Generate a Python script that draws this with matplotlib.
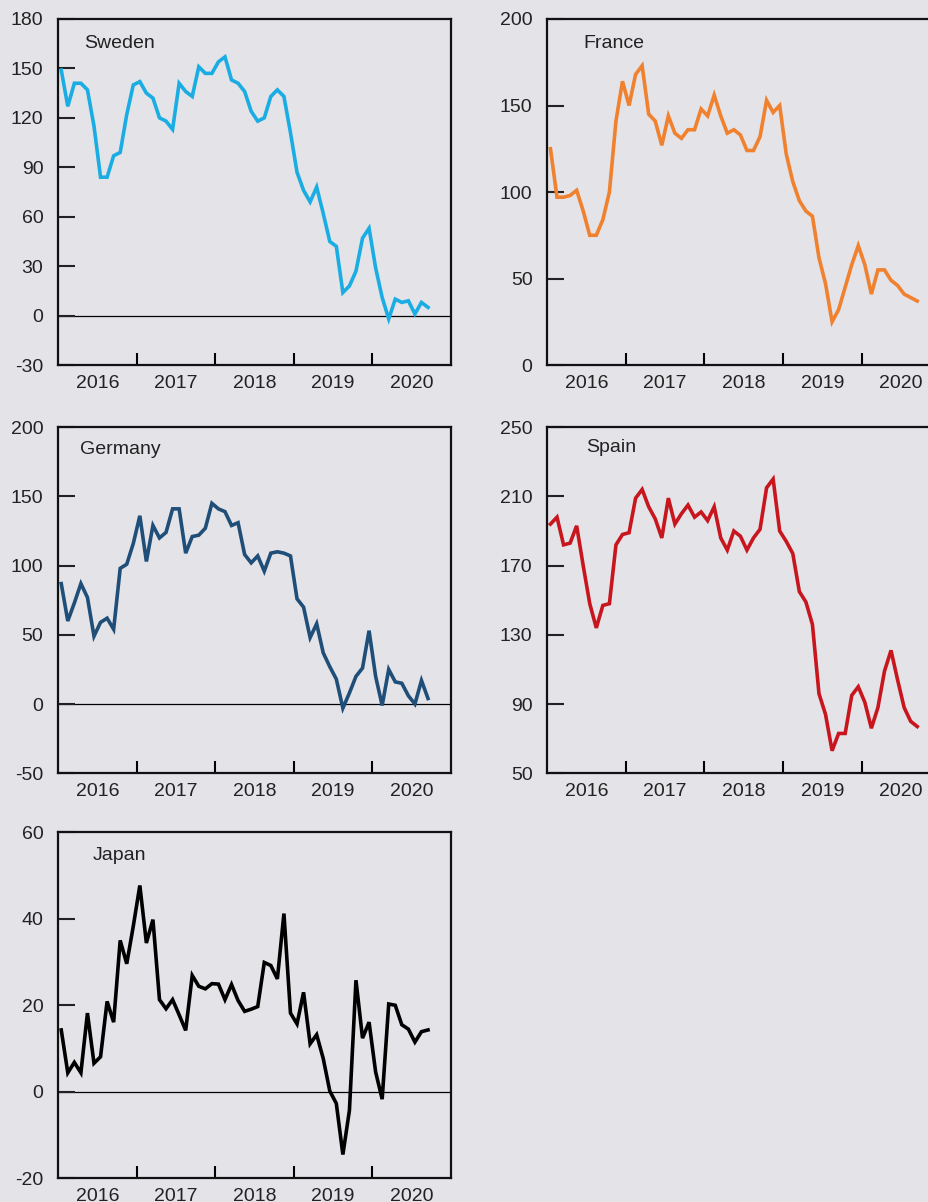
import numpy as np
import matplotlib
matplotlib.use("Agg")
import matplotlib.pyplot as plt
from matplotlib.ticker import FixedLocator, NullFormatter, FixedFormatter

plt.rcParams["font.family"] = ["Liberation Sans", "DejaVu Sans"]
plt.rcParams["axes.unicode_minus"] = False

# monthly observations, Jan 2016 - Sep 2020
n_months = 57
years = [2016, 2017, 2018, 2019, 2020]

sweden = [149, 127, 141, 141, 137, 115, 84, 84, 97, 99,
          122, 140, 142, 135, 132, 120, 118, 113, 141, 136,
          133, 151, 147, 147, 154, 157, 143, 141, 136, 124,
          118, 120, 133, 137, 133, 111, 87, 76, 69, 78,
          62, 45, 42, 14, 18, 27, 47, 53, 29, 11,
          -2, 10, 8, 9, 1, 8, 5]

france = [125, 97, 97, 98, 101, 89, 75, 75, 84, 100,
          141, 164, 150, 168, 173, 145, 141, 127, 144, 134,
          131, 136, 136, 148, 144, 156, 144, 134, 136, 133,
          124, 124, 132, 153, 146, 150, 122, 106, 95, 89,
          86, 62, 47, 25, 32, 45, 58, 69, 58, 41,
          55, 55, 49, 46, 41, 39, 37]

germany = [87, 60, 73, 87, 77, 49, 59, 62, 54, 98,
           101, 116, 136, 103, 129, 120, 124, 141, 141, 109,
           121, 122, 127, 145, 141, 139, 129, 131, 108, 102,
           107, 96, 109, 110, 109, 107, 76, 70, 48, 58,
           37, 27, 18, -3, 8, 20, 26, 53, 20, -1,
           25, 16, 15, 6, 0, 17, 4]

spain = [194, 198, 182, 183, 193, 170, 148, 134, 147, 148,
         182, 188, 189, 209, 214, 204, 197, 186, 209, 194,
         200, 205, 198, 201, 196, 204, 186, 179, 190, 187,
         179, 186, 191, 215, 220, 190, 184, 177, 155, 149,
         136, 96, 84, 63, 73, 73, 95, 100, 91, 76,
         88, 109, 121, 104, 88, 80, 77]

japan = [14.3, 4.4, 6.8, 4.4, 18.2, 6.6, 8.1, 20.9, 16.1, 35.0,
         29.6, 38.3, 47.7, 34.4, 39.8, 21.3, 19.2, 21.3, 17.8, 14.2,
         26.9, 24.4, 23.8, 25.0, 24.9, 21.3, 24.8, 21.1, 18.6, 19.1,
         19.7, 29.9, 29.2, 26.1, 41.2, 18.2, 15.7, 23.0, 11.1, 13.2,
         7.7, 0.2, -2.7, -14.5, -4.3, 25.8, 12.4, 16.1, 4.6, -1.7,
         20.3, 20.0, 15.5, 14.5, 11.5, 13.9, 14.3]

panels = [
    ("Sweden", sweden, "#1aade4", (-30, 180), 30, (0.0624, 0.6963), (0.066, 0.93)),
    ("France", france, "#f0812e", (0, 200), 50, (0.5890, 0.6963), (0.091, 0.93)),
    ("Germany", germany, "#1f4e79", (-50, 200), 50, (0.0624, 0.3567), (0.056, 0.935)),
    ("Spain", spain, "#c8161e", (50, 250), 40, (0.5890, 0.3567), (0.10, 0.94)),
    ("Japan", japan, "#000000", (-20, 60), 20, (0.0624, 0.0197), (0.089, 0.934)),
]

bg = "#e4e3e8"
fig = plt.figure(figsize=(9.29, 12.02), dpi=100, facecolor=bg)

x = np.array([2016 + (i + 0.5) / 12 for i in range(n_months)])

for name, values, color, ylim, step, pos, title_pos in panels:
    ax = fig.add_axes([pos[0], pos[1], 0.423, 0.2879])
    ax.set_facecolor(bg)
    ax.plot(x, values, color=color, lw=2.6, solid_joinstyle="miter")
    if ylim[0] < 0:
        ax.axhline(0, color="black", lw=0.9, zorder=1)

    ax.set_xlim(2016, 2021)
    ax.set_ylim(*ylim)
    ax.set_yticks(np.arange(ylim[0], ylim[1] + 1, step))

    # year boundaries as ticks, labels centred on each year
    ax.xaxis.set_major_locator(FixedLocator([2017, 2018, 2019, 2020]))
    ax.xaxis.set_major_formatter(NullFormatter())
    ax.xaxis.set_minor_locator(FixedLocator([yr + 0.5 for yr in years]))
    ax.xaxis.set_minor_formatter(FixedFormatter([str(yr) for yr in years]))

    ax.tick_params(axis="y", direction="in", length=12, width=1.5, pad=10.5,
                   labelsize=14, colors="#222222")
    ax.tick_params(axis="x", which="major", direction="in", length=9, width=1.5)
    ax.tick_params(axis="x", which="minor", length=0, pad=7, labelsize=14,
                   labelcolor="#222222")
    for side in ax.spines.values():
        side.set_linewidth(1.6)
        side.set_color("#111111")

    ax.text(title_pos[0], title_pos[1], name, transform=ax.transAxes,
            fontsize=14, color="#222222", ha="left", va="center")

fig.savefig("out.png", dpi=100, facecolor=bg)
